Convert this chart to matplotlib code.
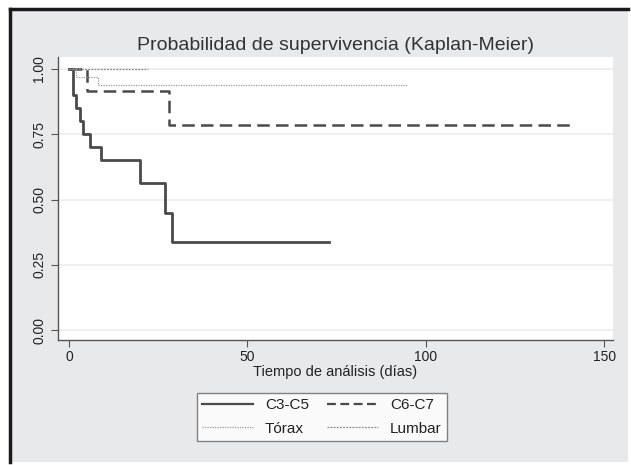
import matplotlib
matplotlib.use("Agg")
import matplotlib.pyplot as plt
from matplotlib.patches import Rectangle
from matplotlib.lines import Line2D

plt.rcParams["font.family"] = ["Liberation Sans", "DejaVu Sans"]

# Kaplan-Meier step curves (time, survival)
c3c5_t = [0, 1, 2, 3, 4, 6, 9, 20, 27, 29, 73]
c3c5_s = [1.0, 0.90, 0.85, 0.80, 0.75, 0.70, 0.65, 0.563, 0.45, 0.338, 0.338]

c6c7_t = [0, 5, 28, 141]
c6c7_s = [1.0, 0.917, 0.786, 0.786]

torax_t = [0, 2, 8, 95]
torax_s = [1.0, 0.97, 0.939, 0.939]

lumbar_t = [0, 22]
lumbar_s = [1.0, 1.0]

xticks = [0, 50, 100, 150]
yticks = [0.0, 0.25, 0.5, 0.75, 1.0]
ytick_labels = ["0.00", "0.25", "0.50", "0.75", "1.00"]

W, H = 631, 465
fig = plt.figure(figsize=(W / 100, H / 100), dpi=100)
fig.patch.set_facecolor("white")

# grey panel with dark frame on left and top
fig.patches.append(Rectangle((9 / W, 3 / H), (628 - 9) / W, (465 - 9 - 3) / H,
                             transform=fig.transFigure, facecolor="#e8e9eb",
                             edgecolor="none", zorder=-10))
fig.lines.append(Line2D([9.5 / W, 9.5 / W], [3 / H, (465 - 9) / H],
                        transform=fig.transFigure, color="#1a1a1a", lw=2.5))
fig.lines.append(Line2D([9.5 / W, 628 / W], [(465 - 9) / H, (465 - 9) / H],
                        transform=fig.transFigure, color="#1a1a1a", lw=2.5))

ax = fig.add_axes([58 / W, (465 - 340) / H, (613 - 58) / W, (340 - 57) / H])
ax.set_facecolor("white")

grey = "#555555"
ax.step(c3c5_t, c3c5_s, where="post", color="#4a4a4a", lw=2.0)
ax.step(c6c7_t, c6c7_s, where="post", color="#4a4a4a", lw=1.8,
        linestyle=(0, (5, 2.5)))
ax.step(torax_t, torax_s, where="post", color="#9a9a9a", lw=0.9,
        linestyle=(0, (1, 1)))
ax.step(lumbar_t, lumbar_s, where="post", color="#8a8a8a", lw=0.9,
        linestyle=(0, (1.5, 1)))

ax.set_xlim(-3.1, 152.5)
ax.set_ylim(-0.038, 1.046)
ax.set_xticks(xticks)
ax.set_yticks(yticks)
ax.set_yticklabels(ytick_labels, rotation=90, va="center")
ax.grid(axis="y", color="#ececec", lw=1.2)
ax.set_axisbelow(True)

for side in ("top", "right"):
    ax.spines[side].set_visible(False)
for side in ("left", "bottom"):
    ax.spines[side].set_color(grey)
    ax.spines[side].set_linewidth(1.0)
ax.tick_params(colors=grey, labelcolor="#222222", labelsize=10, length=5)
ax.tick_params(axis="x", pad=2)

ax.set_xlabel("Tiempo de análisis (días)", fontsize=10.5, color="#222222",
              labelpad=1)
fig.text(0.5 * (58 + 613) / W, (465 - 45) / H,
         "Probabilidad de supervivencia (Kaplan-Meier)",
         ha="center", va="center", fontsize=14, color="#333333")

handles = [
    Line2D([], [], color="#4a4a4a", lw=1.6),
    Line2D([], [], color="#9a9a9a", lw=0.9, linestyle=(0, (1, 1))),
    Line2D([], [], color="#4a4a4a", lw=1.6, linestyle=(0, (4, 2))),
    Line2D([], [], color="#8a8a8a", lw=0.9, linestyle=(0, (1.5, 1))),
]
labels = ["C3-C5", "Tórax", "C6-C7", "Lumbar"]
leg = fig.legend(handles, labels, ncol=2, loc="center",
                 bbox_to_anchor=(322 / W, (465 - 417) / H),
                 fontsize=11, frameon=True, fancybox=False,
                 handlelength=3.3, columnspacing=1.2, labelspacing=0.6,
                 borderpad=0.35, handletextpad=0.8)
leg.get_frame().set_edgecolor("#666666")
leg.get_frame().set_linewidth(1.0)
for t in leg.get_texts():
    t.set_color("#222222")

fig.savefig("out.png", dpi=100)
